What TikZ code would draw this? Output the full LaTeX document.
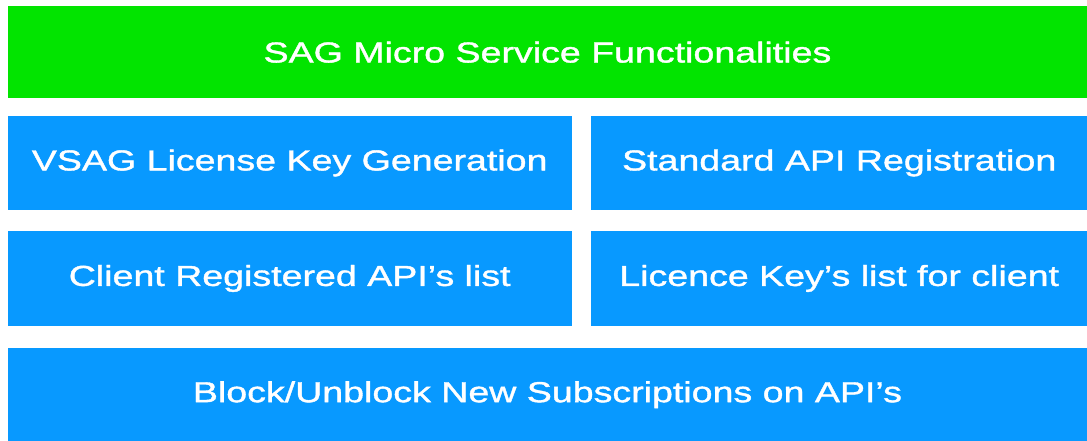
\documentclass[tikz,border=0pt]{standalone}
\usepackage{fontspec}
\setmainfont{Liberation Sans}[FakeStretch=1.3, FakeBold=1.3]
\usepackage{tikz}

\definecolor{sagGreen}{RGB}{2,228,0}
\definecolor{sagBlue}{RGB}{8,153,255}

\tikzset{
  block/.style={rectangle, inner sep=0pt, anchor=north west, text=white,
    font=\fontsize{29}{29}\selectfont},
  headbar/.style={block, fill=sagGreen},
  fnbox/.style={block, fill=sagBlue}
}

\begin{document}
\begin{tikzpicture}[x=1bp, y=-1bp]
        \useasboundingbox (0,0) rectangle (1087,441);
        \node[headbar, minimum width=1079.5bp, minimum height=92bp] (head) at (7.5,6) {SAG Micro Service Functionalities};
        \node[fnbox, minimum width=564bp, minimum height=93.5bp] (keygen) at (7.5,116) {VSAG License Key Generation};
        \node[fnbox, minimum width=496bp, minimum height=93.5bp] (apireg) at (591,116) {Standard API Registration};
        \node[fnbox, minimum width=564bp, minimum height=95.5bp] (apilist) at (7.5,230.5) {Client Registered API’s list};
        \node[fnbox, minimum width=496bp, minimum height=95.5bp] (keylist) at (591,230.5) {Licence Key’s list for client};
        \node[fnbox, minimum width=1079.5bp, minimum height=93bp] (block) at (7.5,348) {Block/Unblock New Subscriptions on API’s};
      \end{tikzpicture}
\end{document}
